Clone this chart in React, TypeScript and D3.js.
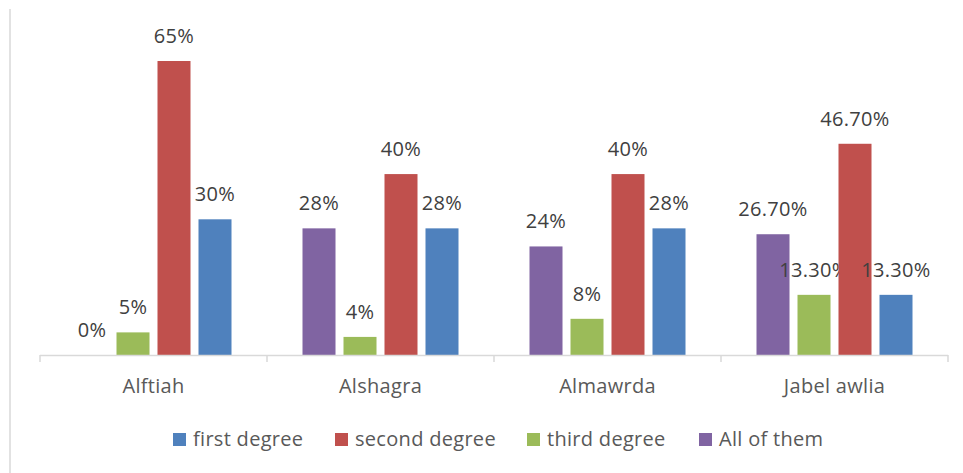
import React from "react";
import * as d3 from "d3";

const categories = ["Alftiah", "Alshagra", "Almawrda", "Jabel awlia"];
const seriesNames = ["All of them", "third degree", "second degree", "first degree"];
const allOfThem = [0, 28, 24, 26.7];
const thirdDegree = [5, 4, 8, 13.3];
const secondDegree = [65, 40, 40, 46.7];
const firstDegree = [30, 28, 28, 13.3];
const allOfThemLabels = ["0%", "28%", "24%", "26.70%"];
const thirdDegreeLabels = ["5%", "4%", "8%", "13.30%"];
const secondDegreeLabels = ["65%", "40%", "40%", "46.70%"];
const firstDegreeLabels = ["30%", "28%", "28%", "13.30%"];
const legendOrder = ["first degree", "second degree", "third degree", "All of them"];

const colors: Record<string, string> = {
  "first degree": "#4F81BD",
  "second degree": "#C0504D",
  "third degree": "#9BBB59",
  "All of them": "#8064A2",
};

const seriesValues: Record<string, number[]> = {
  "All of them": allOfThem,
  "third degree": thirdDegree,
  "second degree": secondDegree,
  "first degree": firstDegree,
};
const seriesLabels: Record<string, string[]> = {
  "All of them": allOfThemLabels,
  "third degree": thirdDegreeLabels,
  "second degree": secondDegreeLabels,
  "first degree": firstDegreeLabels,
};

const W = 963;
const H = 473;
const baseY = 355;
const FONT = "'Open Sans', 'Liberation Sans', sans-serif";

export default function App() {
  const x0 = d3.scaleBand<string>().domain(categories).range([40, 948]);
  const x1 = d3
    .scaleBand<string>()
    .domain(seriesNames)
    .range([35.5, 191.5])
    .paddingInner(0.195);
  const y = d3.scaleLinear().domain([0, 65]).range([baseY, 61]);

  const legendX: Record<string, number> = {
    "first degree": 173,
    "second degree": 335,
    "third degree": 527,
    "All of them": 699,
  };

  return (
    <svg
      width={W}
      height={H}
      style={{ position: "absolute", left: 0, top: 0, display: "block", background: "#fff" }}
      fontFamily={FONT}
    >
      <rect x={0} y={0} width={W} height={H} fill="#fff" />
      <line x1={10} x2={10} y1={9} y2={H} stroke="#D9D9D9" strokeWidth={1.5} />
      {categories.map((c, ci) => (
        <g key={c} transform={`translate(${x0(c)},0)`}>
          {seriesNames.map((s) => {
            const v = seriesValues[s][ci];
            const bx = x1(s)!;
            const bw = x1.bandwidth();
            return (
              <g key={s}>
                <rect x={bx} y={y(v)} width={bw} height={baseY - y(v)} fill={colors[s]} />
                <text
                  x={bx + bw / 2}
                  y={y(v) - 18}
                  textAnchor="middle"
                  fontSize={20}
                  letterSpacing={0.3}
                  fill="#404040"
                >
                  {seriesLabels[s][ci]}
                </text>
              </g>
            );
          })}
        </g>
      ))}
      <line x1={40} x2={948} y1={baseY + 0.5} y2={baseY + 0.5} stroke="#D9D9D9" strokeWidth={1.5} />
      {[...categories.map((c) => x0(c)!), 948].map((tx, i) => (
        <line key={i} x1={tx} x2={tx} y1={baseY} y2={baseY + 7} stroke="#D9D9D9" strokeWidth={1.5} />
      ))}
      {categories.map((c) => (
        <text
          key={c}
          x={x0(c)! + x0.bandwidth() / 2}
          y={393}
          textAnchor="middle"
          fontSize={20}
          letterSpacing={0.3}
          fill="#595959"
        >
          {c}
        </text>
      ))}
      {legendOrder.map((s) => (
        <g key={s}>
          <rect x={legendX[s]} y={433} width={13} height={13} fill={colors[s]} />
          <text x={legendX[s] + 20} y={446} fontSize={20} letterSpacing={0.3} fill="#595959">
            {s}
          </text>
        </g>
      ))}
    </svg>
  );
}
